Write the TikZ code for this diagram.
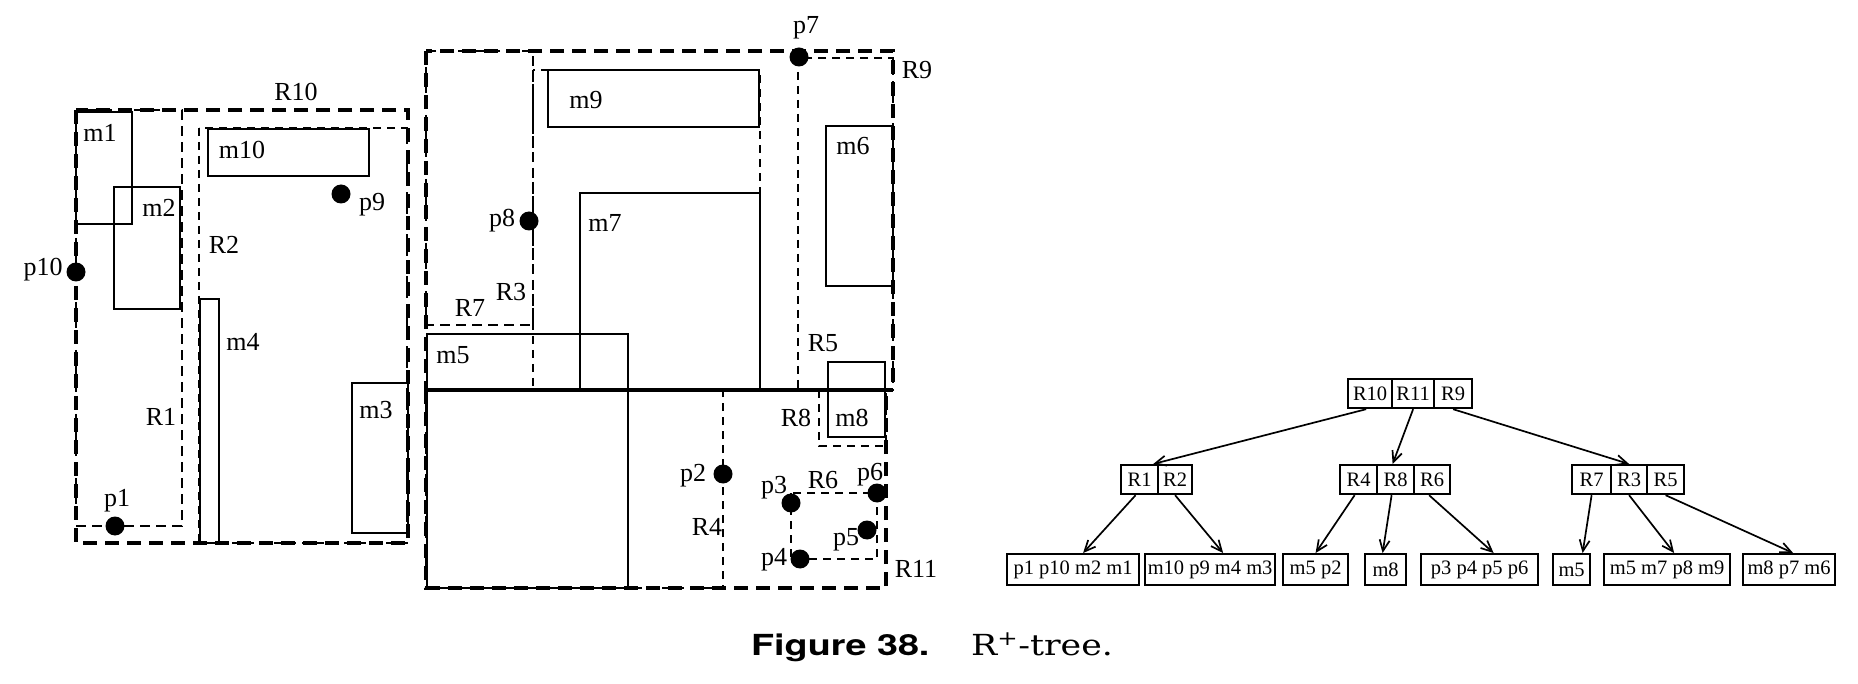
\documentclass[tikz,border=0pt]{standalone}
\usepackage{fontspec}
\setmainfont{Liberation Serif}
\newfontfamily\capsans[FakeStretch=1.3]{TeX Gyre Heros}
\newfontfamily\capserif[FakeStretch=1.2]{DejaVu Serif}
\usetikzlibrary{arrows.meta}
\begin{document}
\begin{tikzpicture}[x=1pt,y=-1pt,
  bigdash/.style={line width=3.6pt, dash pattern=on 14pt off 8pt},
  meddash/.style={line width=2.8pt, dash pattern=on 10pt off 6pt},
  thindash/.style={line width=2.2pt, dash pattern=on 8pt off 6pt},
  mrect/.style={line width=2.2pt},
  dot/.style={circle, fill=black, inner sep=0pt, minimum size=19pt},
  lab/.style={font=\fontsize{26}{28}\selectfont, inner sep=0pt},
  cell/.style={draw, line width=2.2pt, minimum height=29pt, inner sep=0pt, anchor=north west, font=\fontsize{20.5}{22}\selectfont},
  arr/.style={line width=1.7pt, -{Straight Barb[length=11pt,width=10pt,line width=1.7pt]}}
]
\useasboundingbox (0,0) rectangle (1858,684);

% ---- regions (left plan) ----
\draw[bigdash] (76,110) rectangle (408,543);   % R10
\draw[meddash] (76,110) rectangle (182,526);   % R1
\draw[thindash] (199,128) rectangle (407,543); % R2
% ---- regions (middle plan) ----
\draw[bigdash] (426,51) rectangle (893,390);   % R9
\draw[meddash] (426,51) rectangle (533,325);   % R7
\draw[thindash] (533,70) rectangle (760,390);  % R3
\draw[thindash] (798,58) rectangle (893,390);  % R5
\draw[bigdash] (426,390) rectangle (886,588);  % R11
\draw[thindash] (426,390) rectangle (723,588); % R4
\draw[thindash] (819,390) rectangle (886,446); % R8
\draw[thindash] (791,493) rectangle (877,559); % R6

% ---- objects ----
\draw[mrect] (76,112) rectangle (132,224);   % m1
\draw[mrect] (114,187) rectangle (180,309);  % m2
\draw[mrect] (208,129) rectangle (369,176);  % m10
\draw[mrect] (200,299) rectangle (219,543);  % m4
\draw[mrect] (352,383) rectangle (408,533);  % m3
\draw[mrect] (548,70) rectangle (759,127);   % m9
\draw[mrect] (580,193) rectangle (760,389);  % m7
\draw[mrect] (427,334) rectangle (628,588);  % m5
\draw[mrect] (826,126) rectangle (893,286);  % m6
\draw[mrect] (828,362) rectangle (885,437);  % m8

% ---- points ----
\node[dot] (p1) at (115,526) {};
\node[dot] (p2) at (723,474) {};
\node[dot] (p3) at (791,503) {};
\node[dot] (p4) at (800,559) {};
\node[dot] (p5) at (867,530) {};
\node[dot] (p6) at (877,493) {};
\node[dot] (p7) at (799,57) {};
\node[dot] (p8) at (529,221) {};
\node[dot] (p9) at (341,194) {};
\node[dot] (p10) at (76,272) {};

% ---- labels ----
\node[lab] (lR10) at (296,92) {R10};
\node[lab] (lR1) at (161,417) {R1};
\node[lab] (lR2) at (224,245) {R2};
\node[lab] (lm1) at (100,133) {m1};
\node[lab] (lm2) at (159,208) {m2};
\node[lab] (lm10) at (242,150) {m10};
\node[lab] (lp9) at (372,205) {p9};
\node[lab] (lm4) at (243,342) {m4};
\node[lab] (lm3) at (376,410) {m3};
\node[lab] (lp10) at (43,270) {p10};
\node[lab] (lp1) at (117,501) {p1};
\node[lab] (lR7) at (470,308) {R7};
\node[lab] (lR3) at (511,292) {R3};
\node[lab] (lp8) at (502,221) {p8};
\node[lab] (lm9) at (586,100) {m9};
\node[lab] (lm7) at (605,223) {m7};
\node[lab] (lm5) at (453,355) {m5};
\node[lab] (lp7) at (806,28) {p7};
\node[lab] (lR9) at (917,70) {R9};
\node[lab] (lm6) at (853,146) {m6};
\node[lab] (lR5) at (823,343) {R5};
\node[lab] (lm8) at (852,418) {m8};
\node[lab] (lR8) at (796,418) {R8};
\node[lab] (lp2) at (693,476) {p2};
\node[lab] (lR4) at (707,527) {R4};
\node[lab] (lR6) at (823,480) {R6};
\node[lab] (lp3) at (774,488) {p3};
\node[lab] (lp6) at (870,475) {p6};
\node[lab] (lp5) at (846,540) {p5};
\node[lab] (lp4) at (774,560) {p4};
\node[lab] (lR11) at (916,569) {R11};

% ---- tree ----
\node[cell, minimum width=44pt] (t10) at (1347,378) {R10};
\node[cell, minimum width=42pt] (t11) at (1391,378) {R11};
\node[cell, minimum width=38pt] (t9)  at (1433,378) {R9};

\node[cell, minimum width=37pt] (t1) at (1120,464) {R1};
\node[cell, minimum width=34pt] (t2) at (1157,464) {R2};

\node[cell, minimum width=37pt] (t4) at (1339,464) {R4};
\node[cell, minimum width=37pt] (t8) at (1376,464) {R8};
\node[cell, minimum width=36pt] (t6) at (1413,464) {R6};

\node[cell, minimum width=39pt] (t7) at (1571,464) {R7};
\node[cell, minimum width=36pt] (t3) at (1610,464) {R3};
\node[cell, minimum width=37pt] (t5) at (1646,464) {R5};

\node[cell, minimum width=132pt, minimum height=31pt] (L1) at (1006,553) {p1 p10 m2 m1};
\node[cell, minimum width=130pt, minimum height=31pt] (L2) at (1144,553) {m10 p9 m4 m3};
\node[cell, minimum width=65pt, minimum height=31pt] (L3) at (1282,553) {m5 p2};
\node[cell, minimum width=41pt, minimum height=31pt] (L4) at (1364,553) {m8};
\node[cell, minimum width=117pt, minimum height=31pt] (L5) at (1420,553) {p3 p4 p5 p6};
\node[cell, minimum width=37pt, minimum height=31pt] (L6) at (1552,553) {m5};
\node[cell, minimum width=126pt, minimum height=31pt] (L7) at (1603,553) {m5 m7 p8 m9};
\node[cell, minimum width=92pt, minimum height=31pt] (L8) at (1742,553) {m8 p7 m6};

\draw[arr] ([xshift=-4pt]t10.south) -- ([xshift=-6pt]t1.north east);
\draw[arr] (t11.south) -- ([xshift=-3pt]t8.north);
\draw[arr] (t9.south) -- (t3.north);

\draw[arr] ([xshift=-4pt]t1.south) -- ([xshift=10pt]L1.north);
\draw[arr] (t2.south) -- ([xshift=13pt]L2.north);
\draw[arr] ([xshift=-4pt]t4.south) -- (L3.north);
\draw[arr] ([xshift=-4pt]t8.south) -- ([xshift=-3pt]L4.north);
\draw[arr] ([xshift=-3pt]t6.south) -- ([xshift=14pt]L5.north);
\draw[arr] (t7.south) -- ([xshift=11pt]L6.north);
\draw[arr] (t3.south) -- ([xshift=7pt]L7.north);
\draw[arr] (t5.south) -- ([xshift=4pt]L8.north);

% ---- caption ----
\node[anchor=base west, inner sep=0pt, font=\capsans\bfseries\fontsize{29}{32}\selectfont] (capA) at (751,655) {Figure 38.};
\node[anchor=base west, inner sep=0pt, font=\capserif\fontsize{29}{32}\selectfont] (capB) at (971,655) {R\textsuperscript{+}-tree.};
\end{tikzpicture}
\end{document}
